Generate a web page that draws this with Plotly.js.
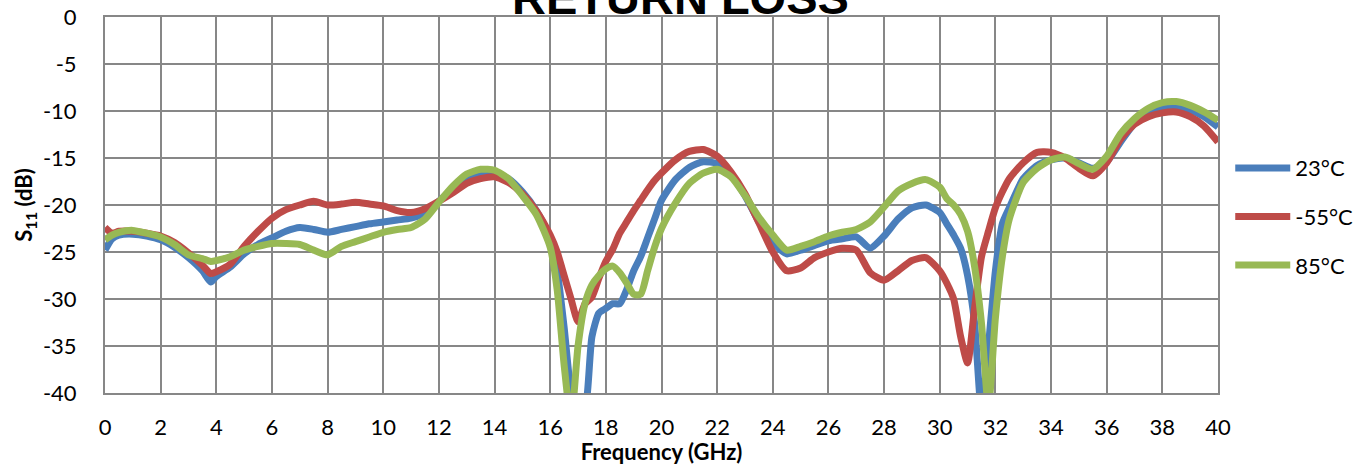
<!DOCTYPE html>
<html>
<head>
<meta charset="utf-8">
<script src="https://cdn.plot.ly/plotly-3.0.1.min.js"></script>
<style>html,body{margin:0;padding:0;background:#fff;}#chart{width:1370px;height:465px;}</style>
</head>
<body>
<div id="chart"></div>
<script>
// Frequency points (GHz)
const freq = [
  0,0.25,0.5,1,1.5,2,2.5,3,
  3.5,3.8,4,
  4.5,5,5.5,6,6.5,7,7.5,8,8.5,9,9.5,10,
  10.5,11,11.5,12,12.5,13,13.5,14,14.5,15,15.5,16,
  16.25,16.5,16.75,17,17.25,17.5,17.75,18,
  18.25,18.5,18.75,19,19.25,19.5,19.75,20,
  20.5,21,21.5,22,22.5,23,23.5,24,24.5,25,
  25.5,26,26.5,27,27.5,28,28.5,29,29.5,30,
  30.25,30.5,30.75,31,31.25,31.5,31.75,32,32.25,32.5,
  33,33.5,34,34.5,35,35.5,36,36.5,37,37.5,38,38.5,39,39.5,40
];
// S11 (dB) at 23°C
const s11_23C = [
  -24.8,-23.6,-23.2,-23.1,-23.3,-23.7,-24.5,-25.6,
  -27.0,-28.2,-27.6,
  -26.6,-25.2,-24.2,-23.5,-22.8,-22.4,-22.6,-22.9,-22.6,-22.3,-22.0,-21.8,
  -21.6,-21.4,-20.9,-19.6,-18.3,-17.2,-16.7,-16.6,-17.2,-18.6,-20.6,-23.5,
  -27.0,-33.0,-40.0,-43.0,-42.0,-34.0,-31.5,-31.0,
  -30.5,-30.5,-29.0,-27.0,-25.5,-23.5,-21.5,-19.5,
  -17.3,-16.0,-15.4,-15.6,-16.8,-19.0,-21.8,-24.0,-25.2,-24.8,
  -24.3,-23.8,-23.6,-23.4,-24.6,-23.3,-21.5,-20.3,-20.0,-20.8,
  -22.0,-23.2,-24.6,-27.5,-32.5,-42.0,-35.0,-27.0,-22.0,-20.3,
  -17.2,-15.8,-15.2,-15.0,-15.5,-16.1,-15.4,-13.3,-11.3,-10.2,-9.7,-9.6,-9.9,-10.6,-11.7
];
// S11 (dB) at -55°C
const s11_m55C = [
  -22.4,-23.0,-22.8,-22.8,-23.0,-23.3,-24.0,-25.1,
  -26.4,-27.3,-27.1,
  -26.3,-24.4,-22.8,-21.4,-20.5,-20.0,-19.6,-20.0,-19.9,-19.7,-19.9,-20.1,
  -20.6,-20.8,-20.4,-19.6,-18.7,-17.7,-17.2,-17.0,-17.6,-18.8,-20.6,-23.2,
  -25.0,-27.5,-30.0,-32.4,-30.5,-29.8,-27.8,-26.0,
  -24.7,-23.0,-21.8,-20.6,-19.5,-18.4,-17.4,-16.6,
  -15.2,-14.3,-14.1,-14.8,-16.5,-18.8,-21.9,-25.0,-27.0,-26.7,
  -25.6,-25.0,-24.6,-24.8,-27.2,-28.0,-27.0,-25.9,-25.6,-27.0,
  -28.3,-30.0,-34.0,-36.8,-31.0,-25.5,-22.8,-20.3,-18.6,-17.2,
  -15.5,-14.4,-14.4,-15.0,-16.1,-16.9,-15.5,-13.0,-11.4,-10.6,-10.2,-10.1,-10.6,-11.6,-13.3
];
// S11 (dB) at 85°C
const s11_85C = [
  -23.7,-23.2,-22.9,-22.7,-23.0,-23.4,-24.2,-25.3,
  -25.7,-26.0,-25.9,
  -25.5,-24.8,-24.4,-24.1,-24.1,-24.2,-24.8,-25.3,-24.4,-23.9,-23.4,-22.9,
  -22.6,-22.4,-21.5,-19.7,-18.0,-16.7,-16.2,-16.3,-17.2,-19.0,-21.0,-24.5,
  -29.0,-37.0,-43.0,-35.0,-30.5,-28.5,-27.5,-26.8,
  -26.5,-27.2,-28.3,-29.5,-29.5,-27.0,-24.5,-22.5,
  -19.8,-17.7,-16.6,-16.2,-17.0,-19.0,-21.3,-23.2,-24.8,-24.4,
  -23.9,-23.3,-22.9,-22.6,-21.8,-20.2,-18.5,-17.7,-17.3,-18.1,
  -19.3,-20.0,-21.0,-22.8,-26.5,-32.6,-41.5,-32.0,-25.5,-21.5,
  -17.6,-16.1,-15.2,-14.9,-15.6,-16.2,-14.8,-12.4,-10.8,-9.7,-9.1,-9.0,-9.4,-10.1,-11.0
];
const seriesNames = ['23°C', '-55°C', '85°C'];
const seriesColors = ['#4A7EBB', '#BE4B48', '#98B954'];
const xTicks = [0,2,4,6,8,10,12,14,16,18,20,22,24,26,28,30,32,34,36,38,40];
const yTicks = [0,-5,-10,-15,-20,-25,-30,-35,-40];

const series = [s11_23C, s11_m55C, s11_85C];
const traces = series.map((ys, i) => ({
  type: 'scatter', mode: 'lines', x: freq, y: ys, name: seriesNames[i],
  legendgroup: 'g' + i,
  line: {color: seriesColors[i], width: 7, shape: 'spline', smoothing: 0.6}
}));

const tickFont = {family: 'Lato, "Open Sans", sans-serif', size: 22, color: '#000'};
const layout = {
  width: 1370, height: 465,
  margin: {l: 105, r: 150, t: 17, b: 72, pad: 0},
  paper_bgcolor: '#fff', plot_bgcolor: '#fff',
  showlegend: true,
  legend: {x: 1.011, xanchor: 'left', y: 0.654, yanchor: 'top',
           font: tickFont, traceorder: 'grouped', tracegroupgap: 17,
           itemwidth: 55, bgcolor: 'rgba(0,0,0,0)'},
  xaxis: {range: [0, 40], tickvals: xTicks, ticktext: xTicks.map(String),
          showgrid: true, gridcolor: '#878787', gridwidth: 2,
          showline: true, linecolor: '#878787', linewidth: 2, mirror: true,
          zeroline: false, ticks: 'outside', ticklen: 14, tickcolor: 'rgba(0,0,0,0)',
          tickfont: tickFont,
          title: {text: '<b>Frequency (GHz)</b>', font: {family: 'Lato, sans-serif', size: 22, color: '#000'}, standoff: 0}},
  yaxis: {range: [-40, 0], tickvals: yTicks, ticktext: yTicks.map(String),
          showgrid: true, gridcolor: '#878787', gridwidth: 2,
          showline: true, linecolor: '#878787', linewidth: 2, mirror: true,
          zeroline: false, ticks: 'outside', ticklen: 22, tickcolor: 'rgba(0,0,0,0)',
          tickfont: tickFont,
          title: {text: '<b>S<sub>11</sub> (dB)</b>', font: {family: 'Lato, sans-serif', size: 22, color: '#000'}, standoff: 4}},
  annotations: [{
    text: '<b>RETURN LOSS</b>', xref: 'paper', yref: 'paper', x: 0.517, y: 1.052,
    xanchor: 'center', yanchor: 'middle', showarrow: false,
    font: {family: '"Liberation Sans", Arial, sans-serif', size: 47, color: '#000'}
  }]
};
Plotly.newPlot('chart', traces, layout, {displayModeBar: false, staticPlot: true});
</script>
</body>
</html>
